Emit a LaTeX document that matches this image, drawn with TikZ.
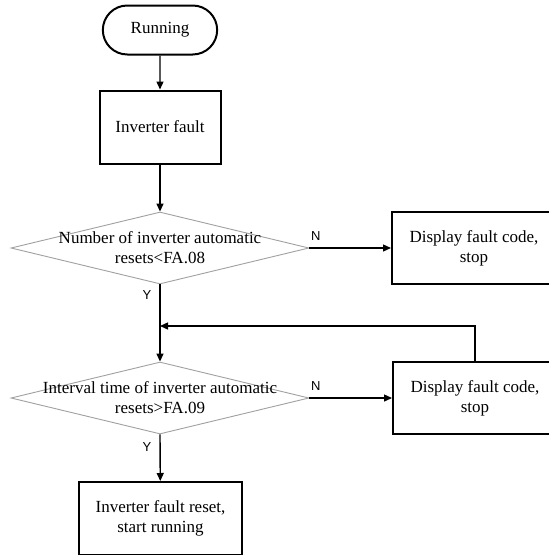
\documentclass[tikz,border=0pt]{standalone}
\usepackage{fontspec}
\setmainfont{Liberation Serif}
\newfontfamily\ynfont{Liberation Sans}
\usepackage{xcolor}
\definecolor{fgray}{HTML}{A0A0A0}
\usepackage{tikz}
\usetikzlibrary{arrows.meta,positioning,shapes.geometric,shapes.misc}

\begin{document}
\begin{tikzpicture}[x=1pt,y=-1pt,
  term/.style={rounded rectangle,draw,line width=2pt,minimum width=121pt,
               minimum height=49pt,font=\fontsize{17}{20}\selectfont},
  proc/.style={rectangle,draw,line width=2pt,minimum width=121pt,minimum height=73pt,
               align=center,font=\fontsize{17}{20}\selectfont},
  stopbox/.style={proc,minimum width=164pt,minimum height=72pt},
  decision/.style={diamond,draw=fgray,line width=0.9pt,inner sep=0pt,
                   minimum width=298pt,minimum height=72pt},
  dtext/.style={align=center,font=\fontsize{17}{20}\selectfont},
  flow/.style={-{Triangle[length=8pt,width=7pt]},line width=1.4pt},
  yn/.style={font=\ynfont\fontsize{13}{15}\selectfont,inner sep=0pt}]
\useasboundingbox (0,0) rectangle (549,555);
\node[term] (run) at (160,30) {Running};
\node[proc] (fault) at (160,127) {Inverter fault};
\node[decision] (d1) at (160,248) {};
\node[dtext] (d1t) at (d1) {Number of inverter automatic\\resets<FA.08};
\node[stopbox] (stop1) at (474,248) {Display fault code,\\stop};
\coordinate (join) at (160,326);
\node[decision] (d2) at (160,398) {};
\node[dtext] (d2t) at (d2) {Interval time of inverter automatic\\resets>FA.09};
\node[stopbox] (stop2) at (475,398) {Display fault code,\\stop};
\node[proc,minimum width=163pt] (reset) at (160.5,518.5) {Inverter fault reset,\\start running};
\draw[flow] (run) -- (fault);
\draw[flow] (fault) -- (d1.north);
\draw[flow] (d1.east) -- node[yn,pos=0,anchor=south west,xshift=1pt,yshift=7pt]{N} (stop1);
\draw[flow] (d1.south) -- node[yn,pos=0,anchor=north east,xshift=-8pt,yshift=-5pt]{Y} (d2.north);
\draw[flow] (stop2.north) |- (join);
\draw[flow] (d2.east) -- node[yn,pos=0,anchor=south west,xshift=1pt,yshift=7pt]{N} (stop2);
\draw[flow] (d2.south) -- node[yn,pos=0,anchor=north east,xshift=-8pt,yshift=-7pt]{Y} (reset);
\end{tikzpicture}
\end{document}
